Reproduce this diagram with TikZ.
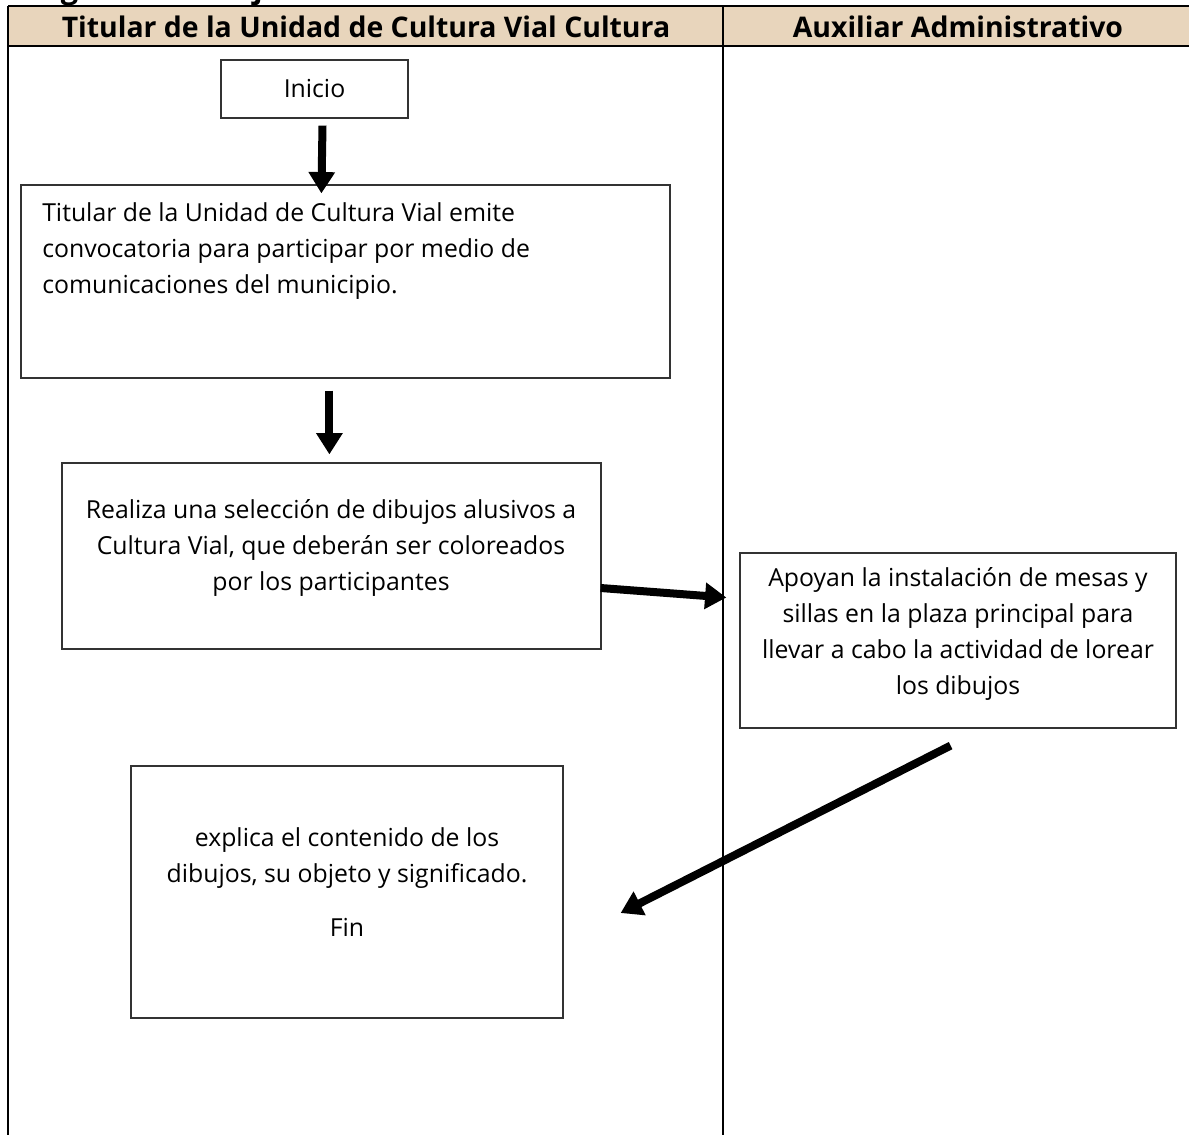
\documentclass[tikz,border=0pt]{standalone}
\usepackage{fontspec}
\setmainfont{Open Sans}
\usetikzlibrary{arrows.meta,calc}
\definecolor{hdr}{HTML}{E8D5BC}
\begin{document}
\begin{tikzpicture}[x=0.75pt,y=-0.75pt,
  box/.style={draw=black!80, line width=0.9pt, inner sep=0pt, minimum width=#1},
  txt/.style={inner sep=0pt, font=\fontsize{18.6}{27}\selectfont},
  hdrtxt/.style={inner sep=0pt, font=\fontsize{21.3}{24}\selectfont\bfseries},
  arr/.style={line width=6pt, -{Triangle[width=19pt,length=16pt]}},
  tline/.style={line width=1.6pt}]
\useasboundingbox (0,0) rectangle (1189,1135);
\begin{scope}
\clip (0,0) rectangle (1189,1135);
\node[inner sep=0pt, anchor=base west, font=\fontsize{23}{26}\selectfont\bfseries] (title) at (10,-2) {Diagrama de flujo};
\fill[hdr] (8,6) rectangle (1189,46);
\draw[tline] (8,6) -- (1189,6);
\draw[tline] (8,46) -- (1189,46);
\draw[tline] (8,6) -- (8,1135);
\draw[tline] (723,6) -- (723,1135);
\end{scope}
\node[hdrtxt] (h1) at (366,27) {Titular de la Unidad de Cultura Vial Cultura};
\node[hdrtxt] (h2) at (958,27) {Auxiliar Administrativo};

% boxes
\node[box=187*0.75pt, minimum height=58*0.75pt] (inicio) at (314.5,89) {};
\node[txt] (tinicio) at (inicio.center) {Inicio};
\node[box=649*0.75pt, minimum height=193*0.75pt] (b2) at (345.5,281.5) {};
\node[txt, anchor=north west, align=left] (t2) at (42,202) {Titular de la Unidad de Cultura Vial emite\\convocatoria para participar por medio de\\comunicaciones del municipio.};
\node[box=539*0.75pt, minimum height=186*0.75pt] (b3) at (331.5,556) {};
\node[txt, align=center] (t3) at (331,548) {Realiza una selección de dibujos alusivos a\\Cultura Vial, que deberán ser coloreados\\por los participantes};
\node[box=436*0.75pt, minimum height=175*0.75pt] (b4) at (958,640.5) {};
\node[txt, align=center] (t4) at (958,634) {Apoyan la instalación de mesas y\\sillas en la plaza principal para\\llevar a cabo la actividad de lorear\\los dibujos};
\node[box=432*0.75pt, minimum height=252*0.75pt] (b5) at (347,892) {};
\node[txt, align=center] (t5) at (347,858) {explica el contenido de los\\dibujos, su objeto y significado.};
\node[txt] (fin) at (347,927) {Fin};

% connectors
\draw[arr] ($(inicio.south)+(8,7)$) -- ($(b2.north west)+(301,9)$);
\draw[arr] ($(b2.south west)+(309,12)$) -- ($(b3.north west)+(268,-8)$);
\draw[arr] ($(b3.east)+(-1,32)$) -- ($(b4.west)+(-13,-43)$);
\draw[arr] ($(b4.south east)+(-226,17)$) -- ($(b5.east)+(57,21)$);
\end{tikzpicture}
\end{document}
